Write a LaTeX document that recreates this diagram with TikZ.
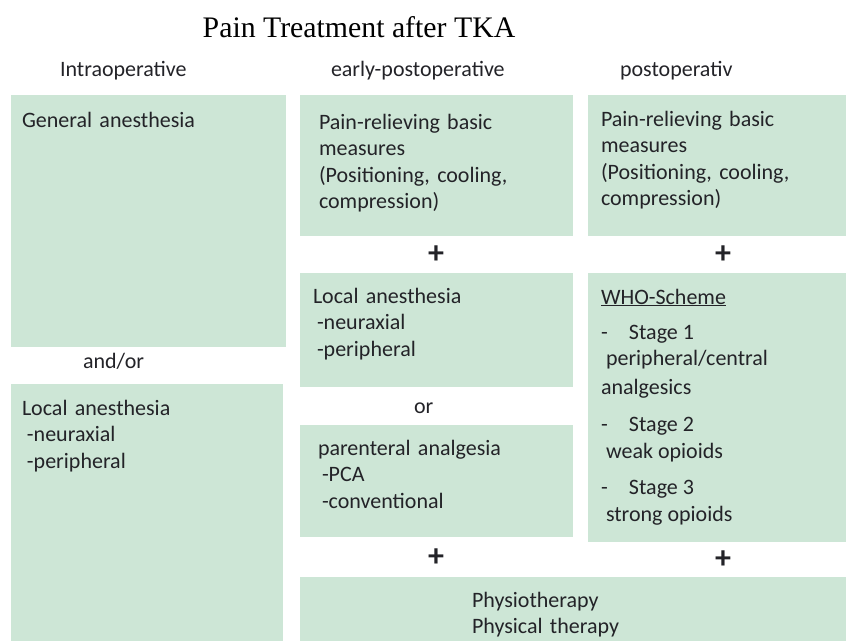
\documentclass[tikz,border=0pt]{standalone}
\usepackage{fontspec}
\setmainfont{Carlito}
\newfontfamily\titlefont{Liberation Serif}
\definecolor{boxgreen}{RGB}{205,230,214}
\definecolor{textcol}{RGB}{35,35,40}
\begin{document}
\begin{tikzpicture}[x=1pt,y=-1pt,
  box/.style={rectangle, fill=boxgreen, draw=none, inner sep=0pt, outer sep=0pt},
  txt/.style={inner sep=0pt, outer sep=0pt, anchor=base west, align=left, text width=250pt,
    text=textcol, font=\fontsize{22}{26.6}\selectfont},
  lbl/.style={inner sep=0pt, outer sep=0pt, anchor=base west, text=textcol, font=\fontsize{22}{26.6}\selectfont},
  plus/.style={inner sep=0pt, outer sep=0pt, text=textcol, font=\fontsize{32}{36}\selectfont\bfseries}]
\useasboundingbox (0,0) rectangle (846,640);
% title and column headers
\node[inner sep=0pt, anchor=base, font=\titlefont\fontsize{29.8}{34}\selectfont] (title) at (359,37) {Pain Treatment after TKA};
\node[lbl] (h1) at (60,76) {Intraoperative};
\node[lbl] (h2) at (331,76) {early-postoperative};
\node[lbl] (h3) at (620,76) {postoperativ};
% boxes
\node[box, minimum width=275pt, minimum height=252pt] (A) at (148.5,221) {};
\node[box, minimum width=272pt, minimum height=257pt] (B) at (147,512.5) {};
\node[box, minimum width=273pt, minimum height=141pt] (C) at (436,165.5) {};
\node[box, minimum width=273pt, minimum height=114pt] (D) at (436,330) {};
\node[box, minimum width=273pt, minimum height=112pt] (E) at (436,481) {};
\node[box, minimum width=258pt, minimum height=141pt] (F) at (717,165.5) {};
\node[box, minimum width=258pt, minimum height=269pt] (G) at (717,407.5) {};
\node[box, minimum width=546pt, minimum height=64pt] (H) at (573,609) {};
% connectors between boxes (text)
\node[lbl] (andor) at (83,368) {and/or};
\node[lbl] (or) at (414,413) {or};
\node[plus] (p1) at (436,255) {+};
\node[plus] (p2) at (723,255) {+};
\node[plus] (p3) at (436,558) {+};
\node[plus] (p4) at (723,560) {+};
% box texts
\node[txt] (tA) at (22,127) {General anesthesia};
\node[txt] (tB) at (22,415) {Local anesthesia\\\hspace*{5pt}-neuraxial\\\hspace*{5pt}-peripheral};
\node[txt] (tC) at (319,129) {Pain-relieving basic\\measures\\(Positioning, cooling,\\compression)};
\node[txt] (tD) at (313,303) {Local anesthesia\\\hspace*{4pt}-neuraxial\\\hspace*{4pt}-peripheral};
\node[txt] (tE) at (318,455) {parenteral analgesia\\\hspace*{4pt}-PCA\\\hspace*{4pt}-conventional};
\node[txt] (tF) at (601,126) {Pain-relieving basic\\measures\\(Positioning, cooling,\\compression)};
\node[txt] (tH) at (472,607) {Physiotherapy\\Physical therapy};
% WHO scheme
\node[lbl] (who) at (601,304) {\underline{WHO-Scheme}};
\node[lbl] (s1) at (601,339) {\makebox[28pt][l]{-}Stage 1};
\node[lbl] (s1a) at (606,365) {peripheral/central};
\node[lbl] (s1b) at (601,394) {analgesics};
\node[lbl] (s2) at (601,431) {\makebox[28pt][l]{-}Stage 2};
\node[lbl] (s2a) at (606,458) {weak opioids};
\node[lbl] (s3) at (601,494) {\makebox[28pt][l]{-}Stage 3};
\node[lbl] (s3a) at (606,521) {strong opioids};
\end{tikzpicture}
\end{document}
